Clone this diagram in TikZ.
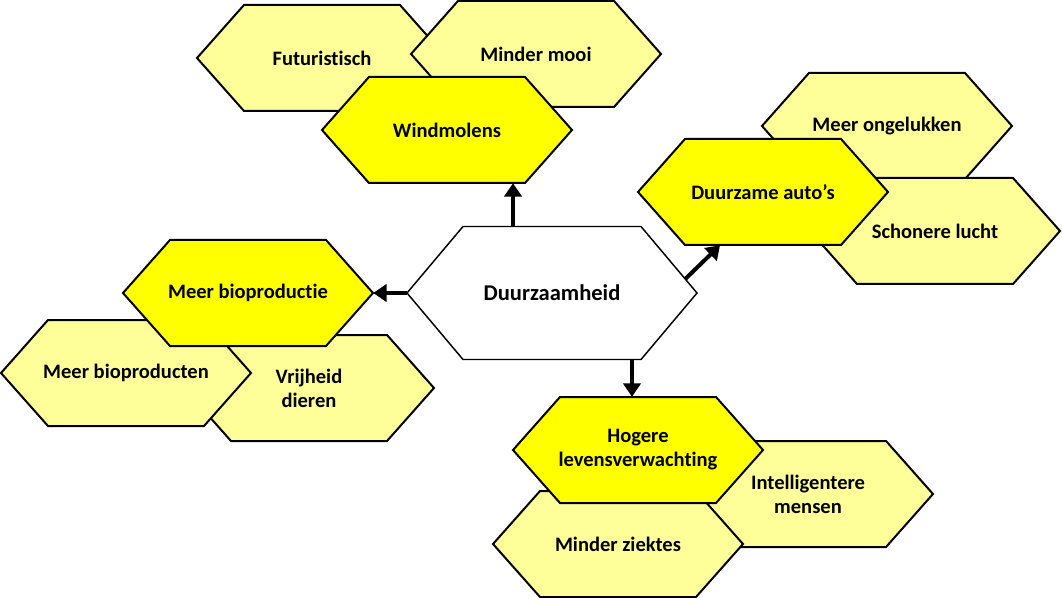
\documentclass[tikz,border=0pt]{standalone}
\usepackage{fontspec}
\setmainfont{Carlito}[Ligatures={NoCommon,NoContextual}]
\usetikzlibrary{arrows.meta}

\definecolor{paleyellow}{RGB}{255,255,153}
\definecolor{fullyellow}{RGB}{255,255,0}

% hexagon with a named text node on top
\newcommand{\hexa}[4]{%
  \filldraw[hex line, fill=#3] (#2) ++(-125,0) -- ++(47,-53) -- ++(156,0)
    -- ++(47,53) -- ++(-47,53) -- ++(-156,0) -- cycle;
  \node[hex box] (#1) at (#2) {#4};
}

\begin{document}
\begin{tikzpicture}[x=0.75pt,y=-0.75pt,>={Triangle[width=13pt,length=10pt]},
                    hex line/.style={draw=black,line width=1.5pt},
                    hex box/.style={minimum width=187.5pt,minimum height=79.5pt,inner sep=0pt,
                                    align=center,font=\fontsize{15.4}{18}\selectfont\bfseries},
                    link/.style={->,line width=3pt}]

  \useasboundingbox (0,0) rectangle (1062,598);

  \hexa{fut}{322,58}{paleyellow}{Futuristisch}
  \hexa{mooi}{536,54}{paleyellow}{Minder mooi}
  \hexa{wind}{447,130}{fullyellow}{Windmolens}

  \hexa{ong}{887,126}{paleyellow}{Meer ongelukken}
  \hexa{schoon}{935,231}{paleyellow}{Schonere lucht}
  \hexa{auto}{763,192}{fullyellow}{Duurzame auto’s}

  \hexa{vrij}{309,388}{paleyellow}{Vrijheid\\dieren}
  \hexa{prod}{126,373}{paleyellow}{Meer bioproducten}
  \hexa{bio}{248,293}{fullyellow}{Meer bioproductie}

  \hexa{intel}{808,494}{paleyellow}{Intelligentere\\mensen}
  \hexa{ziek}{618,544}{paleyellow}{Minder ziektes}
  \hexa{hog}{638,450}{fullyellow}{Hogere\\levensverwachting}

  % centre
  \filldraw[hex line, line width=1.1pt, fill=white] (552,293) ++(-145,0) -- ++(56,-66.5)
    -- ++(178,0) -- ++(56,66.5) -- ++(-56,66.5) -- ++(-178,0) -- cycle;
  \node[hex box, minimum width=217.5pt, minimum height=99.75pt,
        font=\fontsize{16.9}{20}\selectfont\bfseries] (dur) at (552,293) {Duurzaamheid};

  \draw[link] ([shift={(-39,0)}]dur.north) -- ([shift={(-39,0)}]dur.north |- wind.south);
  \draw[link] (dur.west) -- (bio.east);
  \draw[link] ([shift={(-12,-14)}]dur.east) -- ([shift={(-43,0)}]auto.south);
  \draw[link] ([shift={(80,0)}]dur.south) -- ([shift={(80,0)}]dur.south |- hog.north);

\end{tikzpicture}
\end{document}
